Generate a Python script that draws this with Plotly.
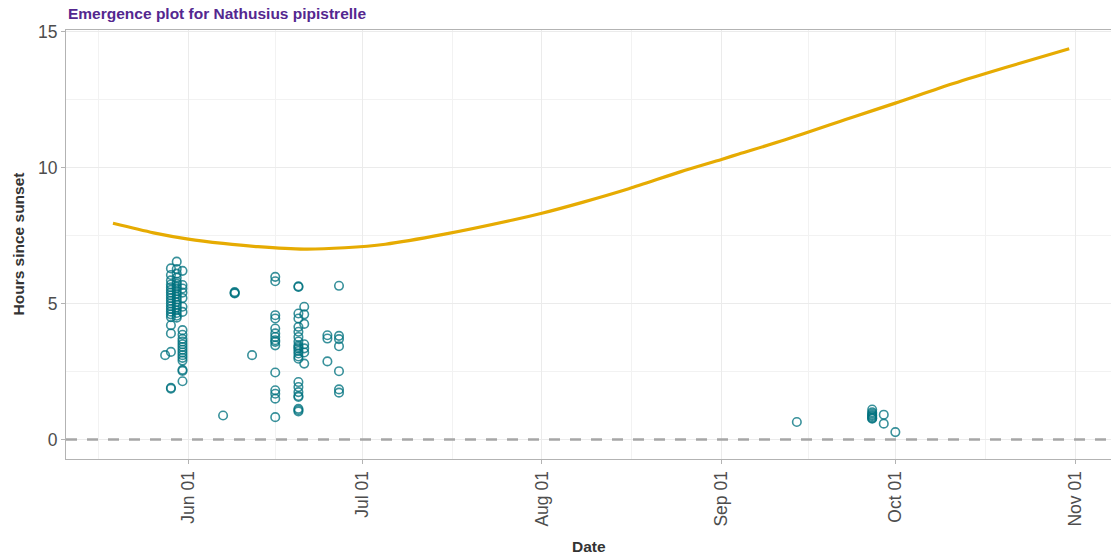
import datetime as dt
import plotly.graph_objects as go

YEAR = 2021

# Night length (hours from sunset to sunrise) across the survey season
night_dates = ["05-19", "05-26", "06-01", "06-07", "06-13", "06-21", "06-28",
               "07-05", "07-15", "07-27", "08-01", "08-08", "08-16", "08-25",
               "09-01", "09-04", "09-12", "09-24", "10-01", "10-11", "10-20",
               "10-31"]
night_hours = [7.95, 7.60, 7.37, 7.21, 7.09, 7.00, 7.05,
               7.18, 7.54, 8.07, 8.32, 8.72, 9.22, 9.85,
               10.30, 10.50, 11.02, 11.88, 12.37, 13.09, 13.68,
               14.37]

# Bat passes: recording night and hours after sunset for each pass
pass_nights = ["05-28", "05-29", "05-30", "05-31", "06-07", "06-09", "06-12",
               "06-16", "06-20", "06-21", "06-25", "06-27", "09-14", "09-27",
               "09-29", "10-01"]
pass_hours = [
    [3.10],
    [6.29, 6.05, 5.85, 5.70, 5.60, 5.50, 5.40, 5.30, 5.20, 5.10, 5.00, 4.90,
     4.80, 4.70, 4.60, 4.50, 4.20, 3.90, 3.22, 1.87, 1.90],
    [6.54, 6.27, 6.10, 5.95, 5.80, 5.72, 5.62, 5.55, 5.45, 5.35, 5.25, 5.15,
     5.05, 4.95, 4.85, 4.75, 4.65, 4.55, 4.48],
    [6.20, 5.68, 5.55, 5.40, 5.20, 4.88, 4.69, 4.02, 3.85, 3.70, 3.60, 3.50,
     3.40, 3.30, 3.20, 3.10, 3.00, 2.90, 2.56, 2.52, 2.14],
    [0.88],
    [5.39, 5.42, 5.37],
    [3.10],
    [5.98, 5.82, 4.57, 4.45, 4.08, 3.90, 3.77, 3.65, 3.59, 3.46, 2.46, 1.81,
     1.68, 1.50, 0.82],
    [5.61, 5.63, 4.63, 4.45, 4.14, 3.96, 3.77, 3.60, 3.46, 3.40, 3.34, 3.25,
     3.16, 3.05, 2.97, 2.11, 1.93, 1.74, 1.60, 1.56, 1.13, 1.03, 1.08],
    [4.88, 4.60, 4.25, 3.50, 3.35, 3.20, 2.79],
    [3.83, 3.71, 2.87],
    [5.65, 3.81, 3.69, 3.43, 2.51, 1.84, 1.72],
    [0.64],
    [1.10, 1.00, 0.95, 0.90, 0.86, 0.82, 0.78, 0.76],
    [0.91, 0.58],
    [0.27],
]

month_ticks = ["06-01", "07-01", "08-01", "09-01", "10-01", "11-01"]
month_labels = ["Jun 01", "Jul 01", "Aug 01", "Sep 01", "Oct 01", "Nov 01"]


def to_date(md):
    m, d = md.split("-")
    return dt.datetime(YEAR, int(m), int(d))


line_x = [to_date(d) for d in night_dates]
pt_x, pt_y = [], []
for night, hours in zip(pass_nights, pass_hours):
    for h in hours:
        pt_x.append(to_date(night))
        pt_y.append(h)

tick_x = [to_date(d) for d in month_ticks]
# minor grid halfway between month breaks (one extra before the first)
prev = [dt.datetime(YEAR, 5, 1)] + tick_x[:-1]
minor_x = [a + (b - a) / 2 for a, b in zip(prev, tick_x)]

W, H = 1111, 559
L, T, B = 66, 30, 100
plot_h = H - T - B

FONT = "Liberation Sans, Arial, sans-serif"
GRID = "#EBEBEB"
BORDER = "#B3B3B3"
TEAL = "rgba(0,114,127,0.78)"
GOLD = "#E6AB02"

fig = go.Figure()
fig.add_trace(go.Scatter(
    x=pt_x, y=pt_y, mode="markers",
    marker=dict(symbol="circle-open", size=8.5, color=TEAL,
                line=dict(width=1.6, color=TEAL)),
    showlegend=False, hoverinfo="x+y"))
fig.add_trace(go.Scatter(
    x=line_x, y=night_hours, mode="lines",
    line=dict(color=GOLD, width=3.2, shape="spline", smoothing=0.8),
    showlegend=False))

# reference line at sunset
fig.add_hline(y=0, line=dict(color="#A6A6A6", width=2.6, dash="11px,10px"))


def ypaper(px):
    return (H - B - px) / plot_h


fig.add_annotation(text="<b>Emergence plot for Nathusius pipistrelle</b>",
                   xref="paper", yref="paper", x=0, y=ypaper(14),
                   xanchor="left", yanchor="middle", showarrow=False,
                   font=dict(family=FONT, size=15.5, color="#54278F"))
fig.add_annotation(text="<b>Hours since sunset</b>", textangle=-90,
                   xref="paper", yref="paper", x=(17.5 - L) / (W - L),
                   y=ypaper(244), xanchor="center", yanchor="middle",
                   showarrow=False,
                   font=dict(family=FONT, size=15.5, color="#333333"))
fig.add_annotation(text="<b>Date</b>", xref="paper", yref="paper",
                   x=(589 - L) / (W - L), y=ypaper(546),
                   xanchor="center", yanchor="middle", showarrow=False,
                   font=dict(family=FONT, size=15.5, color="#333333"))

fig.update_layout(
    width=W, height=H,
    margin=dict(l=L, r=0, t=T, b=B),
    paper_bgcolor="white", plot_bgcolor="white",
    font=dict(family=FONT),
    xaxis=dict(
        type="date",
        range=[dt.datetime(YEAR, 5, 10, 21, 30), dt.datetime(YEAR, 11, 7, 5)],
        tickvals=tick_x, ticktext=month_labels, tickangle=-90,
        tickfont=dict(family=FONT, size=17.5, color="#4D4D4D"),
        ticks="outside", ticklen=4, tickcolor=BORDER, tickwidth=1,
        showgrid=True, gridcolor=GRID, gridwidth=1,
        minor=dict(tickvals=minor_x, showgrid=True, gridcolor="#F2F2F2",
                   gridwidth=1, ticks=""),
        showline=True, linecolor=BORDER, linewidth=1.2, mirror=True,
        zeroline=False, fixedrange=True),
    yaxis=dict(
        range=[-0.72, 15.06],
        tickvals=[0, 5, 10, 15],
        tickfont=dict(family=FONT, size=17.5, color="#4D4D4D"),
        ticks="outside", ticklen=4, tickcolor=BORDER, tickwidth=1,
        showgrid=True, gridcolor=GRID, gridwidth=1,
        minor=dict(tickvals=[2.5, 7.5, 12.5], showgrid=True,
                   gridcolor="#F2F2F2", gridwidth=1, ticks=""),
        showline=True, linecolor=BORDER, linewidth=1.2,
        zeroline=False, fixedrange=True),
)

fig.write_html("out.html")
